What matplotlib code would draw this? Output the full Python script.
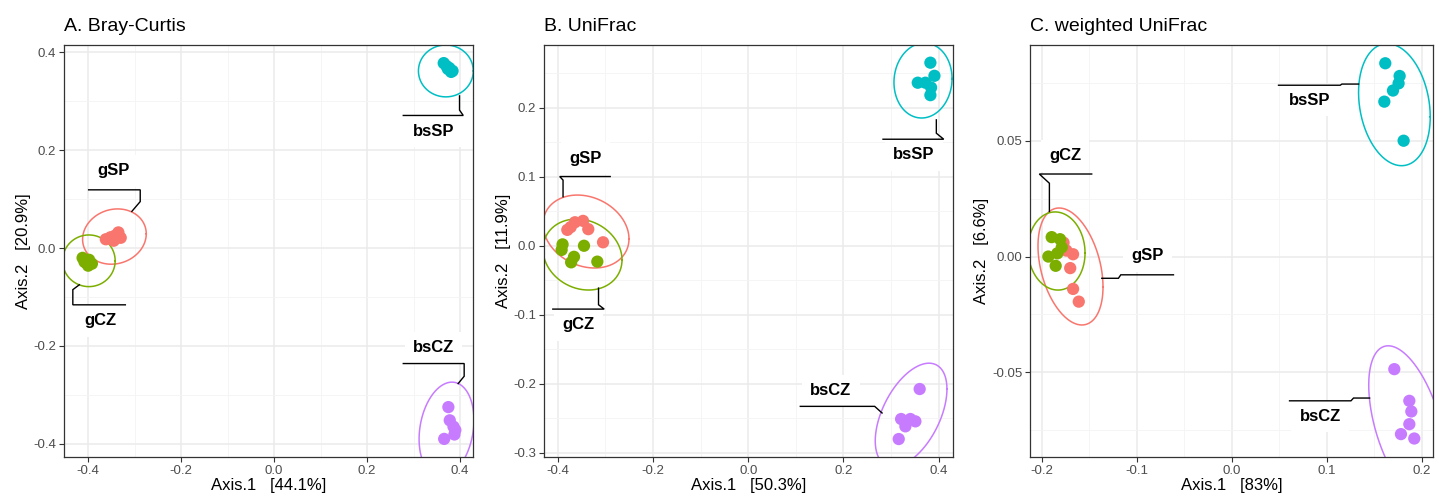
import numpy as np
import matplotlib
matplotlib.use("Agg")
import matplotlib.pyplot as plt
from matplotlib.ticker import FixedLocator

plt.rcParams['font.family'] = ['Liberation Sans', 'DejaVu Sans']

groups = ["gSP", "gCZ", "bsSP", "bsCZ"]
colors = {"gSP": "#F8766D", "gCZ": "#7CAE00", "bsSP": "#00BFC4", "bsCZ": "#C77CFF"}

titles = ["A. Bray-Curtis", "B. UniFrac", "C. weighted UniFrac"]
xlabels = ["Axis.1   [44.1%]", "Axis.1   [50.3%]", "Axis.1   [83%]"]
ylabels = ["Axis.2   [20.9%]", "Axis.2   [11.9%]", "Axis.2   [6.6%]"]

# --- ordination scores ---
bray_x = {"gSP": [-0.362, -0.352, -0.343, -0.335, -0.330, -0.345],
          "gCZ": [-0.412, -0.405, -0.398, -0.392, -0.408, -0.400],
          "bsSP": [0.365, 0.371, 0.377, 0.384, 0.374, 0.381],
          "bsCZ": [0.375, 0.378, 0.386, 0.390, 0.388, 0.366]}
bray_y = {"gSP": [0.018, 0.022, 0.025, 0.032, 0.021, 0.015],
          "gCZ": [-0.020, -0.030, -0.024, -0.032, -0.028, -0.036],
          "bsSP": [0.378, 0.372, 0.368, 0.362, 0.366, 0.360],
          "bsCZ": [-0.325, -0.352, -0.365, -0.372, -0.381, -0.390]}

unifrac_x = {"gSP": [-0.380, -0.364, -0.347, -0.336, -0.305, -0.373],
             "gCZ": [-0.390, -0.392, -0.366, -0.372, -0.345, -0.317],
             "bsSP": [0.3825, 0.391, 0.356, 0.372, 0.384, 0.3825],
             "bsCZ": [0.360, 0.321, 0.3405, 0.351, 0.330, 0.316]}
unifrac_y = {"gSP": [0.023, 0.034, 0.036, 0.024, 0.005, 0.027],
             "gCZ": [0.002, -0.006, -0.016, -0.024, 0.000, -0.023],
             "bsSP": [0.265, 0.246, 0.236, 0.236, 0.229, 0.218],
             "bsCZ": [-0.2074, -0.2508, -0.2508, -0.2542, -0.2614, -0.2798]}

wunifrac_x = {"gSP": [-0.177, -0.167, -0.170, -0.167, -0.161, -0.174],
              "gCZ": [-0.1895, -0.1807, -0.193, -0.1835, -0.1853, -0.1789],
              "bsSP": [0.1614, 0.1765, 0.1754, 0.1695, 0.1604, 0.1807],
              "bsCZ": [0.1709, 0.1867, 0.1888, 0.1867, 0.1779, 0.1919]}
wunifrac_y = {"gSP": [0.006, 0.001, -0.005, -0.014, -0.0195, 0.0026],
              "gCZ": [0.0084, 0.0075, 0.0, 0.0014, -0.004, 0.004],
              "bsSP": [0.0836, 0.0781, 0.0749, 0.0718, 0.0670, 0.0501],
              "bsCZ": [-0.0487, -0.0624, -0.067, -0.0725, -0.0768, -0.0787]}

# ellipses: centre x, centre y, half x-range, half y-range, correlation
bray_ell = {"gSP": (-0.3435, 0.0235, 0.0685, 0.0565, 0.1),
            "gCZ": (-0.3985, -0.026, 0.0566, 0.0528, 0.0),
            "bsSP": (0.3696, 0.362, 0.059, 0.053, 0.0),
            "bsCZ": (0.371, -0.371, 0.059, 0.097, 0.2)}
unifrac_ell = {"gSP": (-0.3408, 0.0206, 0.0903, 0.0528, -0.2),
               "gCZ": (-0.3481, -0.0127, 0.083, 0.0514, -0.15),
               "bsSP": (0.367, 0.2392, 0.061, 0.0543, 0.05),
               "bsCZ": (0.342, -0.245, 0.0753, 0.075, 0.5)}
wunifrac_ell = {"gSP": (-0.1697, -0.0043, 0.0342, 0.0253, -0.35),
                "gCZ": (-0.1844, 0.0024, 0.030, 0.0169, -0.05),
                "bsSP": (0.171, 0.0657, 0.0377, 0.0264, -0.2),
                "bsCZ": (0.185, -0.0726, 0.041, 0.034, -0.5)}

# label positions and connector paths
bray_lab = {"gSP": ((-0.345, 0.158), [(-0.399, 0.119), (-0.288, 0.119), (-0.288, 0.095), (-0.306, 0.075)]),
            "gCZ": ((-0.374, -0.149), [(-0.320, -0.116), (-0.433, -0.116), (-0.433, -0.085), (-0.419, -0.075)]),
            "bsSP": ((0.343, 0.238), [(0.278, 0.271), (0.407, 0.271), (0.399, 0.282), (0.399, 0.311)]),
            "bsCZ": ((0.343, -0.204), [(0.278, -0.236), (0.409, -0.236), (0.409, -0.262), (0.396, -0.277)])}
unifrac_lab = {"gSP": ((-0.3426, 0.1267), [(-0.290, 0.1002), (-0.396, 0.1002), (-0.389, 0.095), (-0.389, 0.071)]),
               "gCZ": ((-0.3566, -0.1144), [(-0.4105, -0.0917), (-0.3026, -0.0917), (-0.3145, -0.0854), (-0.3145, -0.0613)]),
               "bsSP": ((0.3475, 0.1315), [(0.283, 0.1542), (0.4105, 0.1542), (0.395, 0.1629), (0.395, 0.1822)]),
               "bsCZ": ((0.1737, -0.2094), [(0.1093, -0.2325), (0.2655, -0.2325), (0.281, -0.2421)])}
wunifrac_lab = {"gCZ": ((-0.1754, 0.0435), [(-0.1474, 0.0357), (-0.2025, 0.0357), (-0.1919, 0.0317), (-0.1919, 0.0195)]),
                "gSP": ((-0.0888, 0.0003), [(-0.0614, -0.0079), (-0.1168, -0.0079), (-0.1193, -0.0094), (-0.1368, -0.0094)]),
                "bsSP": ((0.0818, 0.0677), [(0.0491, 0.0741), (0.114, 0.0741), (0.1158, 0.0746), (0.1333, 0.0746)]),
                "bsCZ": ((0.093, -0.0692), [(0.0607, -0.0624), (0.1253, -0.0624), (0.128, -0.0612), (0.1449, -0.0612)])}

xlims = [(-0.452, 0.428), (-0.429, 0.430), (-0.2123, 0.2116)]
ylims = [(-0.427, 0.415), (-0.3058, 0.2906), (-0.0867, 0.0915)]
xmajor = [[-0.4, -0.2, 0.0, 0.2, 0.4], [-0.4, -0.2, 0.0, 0.2, 0.4], [-0.2, -0.1, 0.0, 0.1, 0.2]]
ymajor = [[-0.4, -0.2, 0.0, 0.2, 0.4], [-0.3, -0.2, -0.1, 0.0, 0.1, 0.2], [-0.05, 0.0, 0.05]]
yfmt = ["{:.1f}", "{:.1f}", "{:.2f}"]

panels = [(bray_x, bray_y, bray_ell, bray_lab),
          (unifrac_x, unifrac_y, unifrac_ell, unifrac_lab),
          (wunifrac_x, wunifrac_y, wunifrac_ell, wunifrac_lab)]

fig = plt.figure(figsize=(14.41, 4.98), dpi=100)
lefts = [64, 544, 1030]
widths = [409, 409, 403]

t = np.linspace(0, 2 * np.pi, 300)

for i, (px, py, ell, lab) in enumerate(panels):
    ax = fig.add_axes([lefts[i] / 1441, 41 / 498, widths[i] / 1441, 412 / 498])
    ax.set_xlim(*xlims[i])
    ax.set_ylim(*ylims[i])

    xm, ym = xmajor[i], ymajor[i]
    xminor = [(a + b) / 2 for a, b in zip(xm[:-1], xm[1:])]
    yminor = [(a + b) / 2 for a, b in zip(ym[:-1], ym[1:])]
    dx, dy = xm[1] - xm[0], ym[1] - ym[0]
    xminor += [xm[0] - dx / 2, xm[-1] + dx / 2]
    yminor += [ym[0] - dy / 2, ym[-1] + dy / 2]
    ax.xaxis.set_major_locator(FixedLocator(xm))
    ax.yaxis.set_major_locator(FixedLocator(ym))
    ax.xaxis.set_minor_locator(FixedLocator(xminor))
    ax.yaxis.set_minor_locator(FixedLocator(yminor))
    ax.set_xticklabels(["{:.1f}".format(v) for v in xm])
    ax.set_yticklabels([yfmt[i].format(v) for v in ym])
    ax.grid(which="major", color="#EBEBEB", lw=1.1, zorder=0)
    ax.grid(which="minor", color="#F4F4F4", lw=0.6, zorder=0)
    ax.set_axisbelow(True)
    ax.tick_params(which="major", length=3.5, width=0.8, color="#333333",
                   labelsize=9.5, labelcolor="#4D4D4D", pad=2)
    ax.tick_params(which="minor", length=0)
    for sp in ax.spines.values():
        sp.set_color("#333333")
        sp.set_linewidth(0.9)

    for g in groups:
        cx, cy, rx, ry, rho = ell[g]
        ex = cx + rx * np.cos(t)
        ey = cy + ry * (rho * np.cos(t) + np.sqrt(1 - rho ** 2) * np.sin(t))
        ax.plot(ex, ey, color=colors[g], lw=1.1, zorder=2)
    for g in groups:
        ax.scatter(px[g], py[g], s=78, color=colors[g], edgecolors="none", zorder=3)
    for g in groups:
        (tx, ty), path = lab[g]
        xs, ys = zip(*path)
        ax.text(tx, ty, g, fontsize=12, fontweight="bold", ha="center", va="center", zorder=5,
                bbox=dict(boxstyle="square,pad=0.5", fc="white", ec="none"))
        ax.plot(xs, ys, color="black", lw=1.0, zorder=6, solid_joinstyle="miter")

    ax.set_xlabel(xlabels[i], fontsize=12, labelpad=1)
    ax.set_ylabel(ylabels[i], fontsize=12, labelpad=2)
    ax.set_title(titles[i], loc="left", fontsize=14, pad=10)

fig.savefig("out.png", dpi=100)
